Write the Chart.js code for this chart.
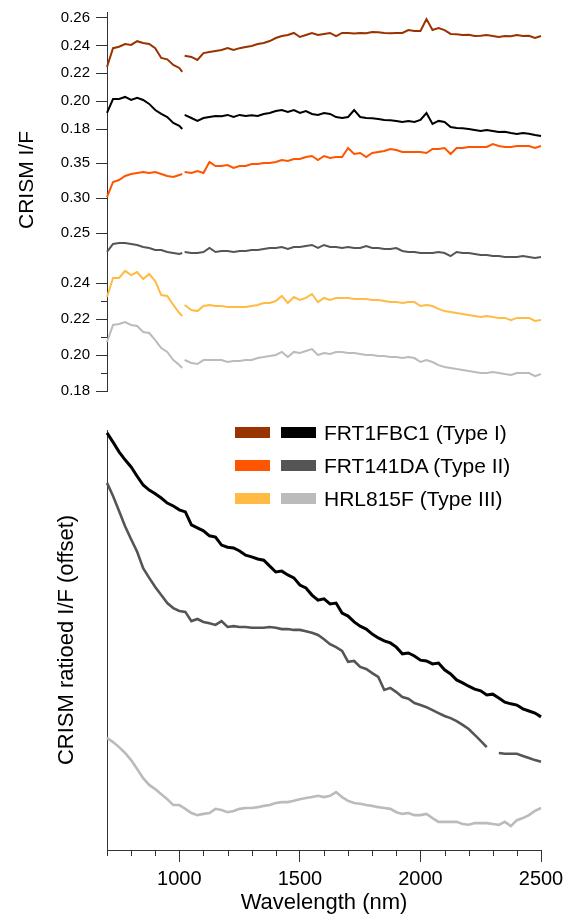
<!DOCTYPE html>
<html>
<head>
<meta charset="utf-8">
<script src="https://cdn.jsdelivr.net/npm/chart.js@4.4.0/dist/chart.umd.min.js"></script>
<style>
  body { margin: 0; background: #fff; }
  #wrap { position: relative; width: 570px; height: 916px; overflow: hidden; font-family: "Liberation Sans", Arial, sans-serif; color: #000; }
  canvas { position: absolute; left: 0; }
  .ytitle { position: absolute; font-size: 21px; white-space: nowrap; transform: translate(-50%, -50%) rotate(-90deg); }
  .sw { position: absolute; width: 35px; height: 11px; }
  .lt { position: absolute; font-size: 21px; line-height: 21px; white-space: nowrap; transform: translateY(-50%); }
</style>
</head>
<body>
<div id="wrap">
  <canvas id="topA" width="570" height="152" style="top:0px"></canvas>
  <canvas id="topC" width="570" height="144" style="top:128px"></canvas>
  <canvas id="topD" width="570" height="155" style="top:248px"></canvas>
  <canvas id="ratio" width="570" height="516" style="top:400px"></canvas>
  <div class="ytitle" style="left:26px; top:180px">CRISM I/F</div>
  <div id="legend"></div>
</div>
<script>
// wavelengths (nm); the top spectra have a detector gap near 1016 nm
var wavelengthTop = [700,725,750,775,800,825,850,875,900,925,950,975,1000,1012,1016,1022,1050,1075,1100,1125,1150,1175,1200,1225,1250,1275,1300,1325,1350,1375,1400,1425,1450,1475,1500,1525,1550,1575,1600,1625,1650,1675,1700,1725,1750,1775,1800,1825,1850,1875,1900,1925,1950,1975,2000,2025,2050,2075,2100,2125,2150,2175,2200,2225,2250,2275,2300,2325,2350,2375,2400,2425,2450,2475,2500];
var wavelengthRatio = [700,725,750,775,800,825,850,875,900,925,950,975,1000,1025,1050,1075,1100,1125,1150,1175,1200,1225,1250,1275,1300,1325,1350,1375,1400,1425,1450,1475,1500,1525,1550,1575,1600,1625,1650,1675,1700,1725,1750,1775,1800,1825,1850,1875,1900,1925,1950,1975,2000,2025,2050,2075,2100,2125,2150,2175,2200,2225,2250,2275,2300,2325,2350,2375,2400,2425,2450,2475,2500];

// CRISM I/F, top panel
var brownIF = [0.2245,0.238,0.239,0.241,0.2403,0.243,0.2417,0.241,0.238,0.231,0.230,0.226,0.2238,0.221,null,0.2325,0.2317,0.2295,0.2345,0.2353,0.236,0.2367,0.238,0.2367,0.238,0.2388,0.2396,0.241,0.2417,0.2431,0.2453,0.2467,0.2474,0.2489,0.246,0.2474,0.2489,0.2474,0.2482,0.2489,0.2467,0.2489,0.2489,0.2485,0.2489,0.2487,0.2496,0.2494,0.2489,0.2487,0.2489,0.2489,0.251,0.2503,0.2503,0.2589,0.251,0.2525,0.251,0.2482,0.248,0.2474,0.2476,0.2467,0.2469,0.2474,0.2467,0.246,0.2467,0.2465,0.2474,0.2467,0.2469,0.2453,0.2467];
var blackIF = [0.1915,0.2015,0.2015,0.203,0.2008,0.2023,0.2008,0.198,0.1936,0.1908,0.1886,0.1843,0.1822,0.180,null,0.1901,0.1879,0.1858,0.1879,0.1886,0.1893,0.1891,0.1901,0.1886,0.1901,0.1893,0.1899,0.1893,0.1908,0.1915,0.1929,0.1936,0.1922,0.1936,0.1915,0.1929,0.1908,0.1901,0.1915,0.1908,0.1886,0.1879,0.1886,0.1936,0.1886,0.1879,0.1877,0.1872,0.1865,0.1863,0.1858,0.185,0.1858,0.185,0.1865,0.1915,0.1836,0.1858,0.185,0.1814,0.1807,0.1805,0.180,0.1793,0.1786,0.1793,0.1786,0.1779,0.1781,0.1771,0.1764,0.1771,0.1766,0.1757,0.175];
var orangeIF = [0.3014,0.3229,0.3257,0.3314,0.3343,0.3357,0.3371,0.3357,0.3371,0.3343,0.3314,0.33,0.3329,0.3343,null,0.3371,0.3357,0.3386,0.3357,0.3514,0.3457,0.3457,0.3471,0.3429,0.3457,0.3457,0.3486,0.3486,0.35,0.35,0.3514,0.3543,0.3529,0.3557,0.3557,0.3586,0.36,0.3543,0.36,0.3571,0.3586,0.3586,0.3714,0.3629,0.3643,0.3586,0.3643,0.3657,0.3671,0.37,0.3686,0.3657,0.3657,0.3657,0.3657,0.3643,0.37,0.37,0.3714,0.3629,0.3714,0.3714,0.3729,0.3729,0.3729,0.3729,0.3771,0.3743,0.3729,0.3729,0.3743,0.3743,0.3743,0.3714,0.3743];
var darkGrayIF = [0.2229,0.2343,0.2357,0.2357,0.2343,0.2329,0.23,0.2286,0.2257,0.2257,0.2229,0.2214,0.22,0.2214,null,0.2229,0.2214,0.2214,0.2229,0.2286,0.2229,0.2243,0.2243,0.2229,0.2243,0.2243,0.2257,0.2257,0.2271,0.2286,0.2286,0.23,0.2271,0.23,0.23,0.2314,0.2329,0.2286,0.2329,0.23,0.23,0.2286,0.23,0.2286,0.2286,0.2314,0.2286,0.2286,0.2271,0.2271,0.2286,0.2243,0.2229,0.2229,0.2214,0.2214,0.2214,0.2229,0.2214,0.2171,0.2229,0.2214,0.2214,0.22,0.2186,0.2186,0.2171,0.2171,0.2157,0.2157,0.2157,0.2171,0.2157,0.2143,0.2157];
var yellowIF = [0.2322,0.2428,0.2428,0.2467,0.2444,0.2461,0.2422,0.245,0.2411,0.2333,0.2328,0.2278,0.2233,0.2217,null,0.2278,0.225,0.2244,0.2272,0.2278,0.2272,0.2272,0.2267,0.2267,0.2267,0.2267,0.2272,0.2278,0.2289,0.2289,0.23,0.2328,0.2289,0.2322,0.2306,0.2317,0.2339,0.2294,0.2317,0.2306,0.2317,0.2317,0.2317,0.2311,0.2311,0.2311,0.2306,0.2306,0.23,0.2294,0.2294,0.2289,0.2294,0.2294,0.2272,0.2278,0.2272,0.2256,0.2244,0.2239,0.2233,0.2228,0.2222,0.2217,0.2211,0.2217,0.2211,0.2206,0.2206,0.2194,0.2206,0.2206,0.2206,0.2189,0.2194];
var lightGrayIF = [0.2072,0.2167,0.2172,0.2183,0.2167,0.2161,0.2128,0.2122,0.2083,0.2039,0.2017,0.1972,0.1944,0.1928,null,0.1972,0.1956,0.195,0.1972,0.1972,0.1972,0.1972,0.1961,0.1967,0.1967,0.1972,0.1972,0.1983,0.1989,0.1994,0.2,0.2017,0.1989,0.2017,0.2011,0.2022,0.2033,0.2,0.2011,0.2006,0.2017,0.2017,0.2011,0.2011,0.2006,0.2,0.2,0.1994,0.1994,0.1989,0.1989,0.1983,0.1989,0.1983,0.1961,0.1972,0.1961,0.1944,0.1933,0.1928,0.1922,0.1917,0.1911,0.1906,0.19,0.19,0.1906,0.19,0.1894,0.1889,0.19,0.19,0.19,0.1883,0.1894];

// ratioed I/F (offset, arbitrary units), bottom panel
var blackRatio = [0.993,0.971,0.948,0.929,0.912,0.890,0.869,0.857,0.848,0.838,0.826,0.819,0.810,0.805,0.774,0.767,0.760,0.748,0.745,0.726,0.721,0.719,0.712,0.702,0.698,0.693,0.690,0.676,0.662,0.664,0.655,0.648,0.631,0.624,0.607,0.595,0.598,0.586,0.588,0.564,0.557,0.543,0.533,0.526,0.514,0.505,0.498,0.493,0.483,0.467,0.469,0.462,0.452,0.450,0.443,0.445,0.429,0.419,0.405,0.398,0.390,0.383,0.379,0.369,0.371,0.362,0.352,0.348,0.345,0.336,0.331,0.326,0.317];
var darkGrayRatio = [0.874,0.843,0.807,0.771,0.740,0.710,0.671,0.648,0.626,0.607,0.588,0.576,0.569,0.567,0.545,0.550,0.543,0.540,0.536,0.545,0.531,0.533,0.531,0.531,0.529,0.529,0.529,0.531,0.529,0.526,0.526,0.524,0.524,0.521,0.517,0.512,0.502,0.490,0.483,0.474,0.448,0.450,0.436,0.431,0.421,0.412,0.381,0.386,0.376,0.364,0.360,0.350,0.345,0.340,0.333,0.326,0.319,0.314,0.307,0.298,0.288,0.274,0.260,0.245,null,0.231,0.229,0.229,0.229,0.224,0.219,0.214,0.210];
var lightGrayRatio = [0.267,0.257,0.245,0.231,0.214,0.193,0.171,0.155,0.145,0.133,0.121,0.107,0.107,0.098,0.088,0.083,0.086,0.088,0.098,0.095,0.090,0.093,0.098,0.100,0.100,0.102,0.105,0.107,0.112,0.114,0.114,0.117,0.121,0.124,0.126,0.129,0.126,0.129,0.138,0.126,0.117,0.112,0.110,0.107,0.105,0.102,0.100,0.098,0.090,0.086,0.088,0.083,0.083,0.086,0.076,0.067,0.067,0.067,0.067,0.062,0.060,0.064,0.064,0.064,0.062,0.060,0.067,0.057,0.071,0.076,0.083,0.093,0.100];

// ticks
var ticksTopA = [0.18, 0.20, 0.22, 0.24, 0.26];
var ticksTopC = [0.25, 0.30, 0.35];
var ticksTopD = [0.18, 0.20, 0.22, 0.24];
var minorTopD = [0.19, 0.21, 0.23];
var ticksX = [1000, 1500, 2000, 2500];
var minorX = [700, 800, 900, 1100, 1200, 1300, 1400, 1600, 1700, 1800, 1900, 2100, 2200, 2300, 2400];

// legend
var legendLabels = ['FRT1FBC1 (Type I)', 'FRT141DA (Type II)', 'HRL815F (Type III)'];
var topColors = ['#993300', '#ff5500', '#ffbb44'];
var ratioColors = ['#000000', '#555555', '#bbbbbb'];

Chart.defaults.font.family = '"Liberation Sans", Arial, sans-serif';
Chart.defaults.color = '#000';
var axisColor = '#333';

var minorTicks = {
  id: 'minorTicks',
  afterDraw: function(chart, args, opts) {
    if (!opts.axis) return;
    var scale = chart.scales[opts.axis];
    var ctx = chart.ctx;
    ctx.save();
    ctx.strokeStyle = axisColor;
    ctx.lineWidth = 1;
    ctx.beginPath();
    opts.values.forEach(function(v) {
      var p = Math.round(scale.getPixelForValue(v)) + 0.5;
      if (opts.axis === 'x') { ctx.moveTo(p, scale.top); ctx.lineTo(p, scale.top + opts.length); }
      else { ctx.moveTo(scale.right, p); ctx.lineTo(scale.right - opts.length, p); }
    });
    ctx.stroke();
    ctx.restore();
  }
};

function line(xs, ys, color, width) {
  return {
    data: xs.map(function(x, i) { return {x: x, y: ys[i]}; }),
    borderColor: color, borderWidth: width, pointRadius: 0,
    fill: false, clip: false, spanGaps: false
  };
}

function topPanel(id, sets, yMin, yMax, ticks, minor) {
  return new Chart(document.getElementById(id), {
    type: 'line',
    data: { datasets: sets },
    options: {
      responsive: false, animation: false,
      layout: { padding: { top: 12, bottom: 12, left: 0, right: 29 } },
      plugins: {
        legend: { display: false }, tooltip: { enabled: false },
        minorTicks: minor ? { axis: 'y', values: minor, length: 6 } : {}
      },
      scales: {
        x: { type: 'linear', min: 700, max: 2500, display: false },
        y: {
          min: yMin, max: yMax,
          afterBuildTicks: function(s) { s.ticks = ticks.map(function(v) { return {value: v}; }); },
          afterFit: function(s) { s.width = 107; s.paddingTop = 0; s.paddingBottom = 0; },
          border: { color: axisColor, width: 1 },
          grid: { drawOnChartArea: false, tickLength: 11, color: axisColor },
          ticks: { padding: 6, font: { size: 15 }, callback: function(v) { return v.toFixed(2); } }
        }
      }
    },
    plugins: [minorTicks]
  });
}

topPanel('topA', [line(wavelengthTop, brownIF, topColors[0], 2), line(wavelengthTop, blackIF, ratioColors[0], 2)], 0.17211, 0.26395, ticksTopA);
topPanel('topC', [line(wavelengthTop, orangeIF, topColors[1], 2), line(wavelengthTop, darkGrayIF, ratioColors[1], 2)], 0.21143, 0.38286, ticksTopC);
topPanel('topD', [line(wavelengthTop, yellowIF, topColors[2], 2), line(wavelengthTop, lightGrayIF, ratioColors[2], 2)], 0.18, 0.25278, ticksTopD, minorTopD);

new Chart(document.getElementById('ratio'), {
  type: 'line',
  data: {
    datasets: [
      line(wavelengthRatio, blackRatio, ratioColors[0], 3),
      line(wavelengthRatio, darkGrayRatio, ratioColors[1], 2.6),
      line(wavelengthRatio, lightGrayRatio, ratioColors[2], 2.6)
    ]
  },
  options: {
    responsive: false, animation: false,
    layout: { padding: { top: 30, bottom: 0, left: 0, right: 29 } },
    plugins: {
      legend: { display: false }, tooltip: { enabled: false },
      minorTicks: { axis: 'x', values: minorX, length: 6 }
    },
    scales: {
      x: {
        type: 'linear', min: 700, max: 2500,
        afterBuildTicks: function(s) { s.ticks = ticksX.map(function(v) { return {value: v}; }); },
        afterFit: function(s) { s.height = 66; s.paddingLeft = 0; s.paddingRight = 0; },
        border: { color: axisColor, width: 1 },
        grid: { drawOnChartArea: false, tickLength: 12, color: axisColor },
        ticks: { padding: 5, maxRotation: 0, font: { size: 20 }, callback: function(v) { return String(v); } },
        title: { display: true, text: 'Wavelength (nm)', font: { size: 22 }, padding: { top: 0, bottom: 0 } }
      },
      y: {
        min: 0, max: 1,
        afterFit: function(s) { s.width = 107; s.paddingTop = 0; s.paddingBottom = 0; },
        border: { color: axisColor, width: 1 },
        grid: { drawOnChartArea: false, drawTicks: false },
        ticks: { display: false },
        title: { display: true, text: 'CRISM ratioed I/F (offset)', font: { size: 22 }, padding: { top: 54, bottom: 0 } }
      }
    }
  },
  plugins: [minorTicks]
});

var legend = document.getElementById('legend');
legendLabels.forEach(function(label, i) {
  var y = 432 + i * 33;
  legend.insertAdjacentHTML('beforeend',
    '<div class="sw" style="left:235px;top:' + (y - 5.5) + 'px;background:' + topColors[i] + '"></div>' +
    '<div class="sw" style="left:281px;top:' + (y - 5.5) + 'px;background:' + ratioColors[i] + '"></div>' +
    '<div class="lt" style="left:324px;top:' + y + 'px">' + label + '</div>');
});
</script>
</body>
</html>
